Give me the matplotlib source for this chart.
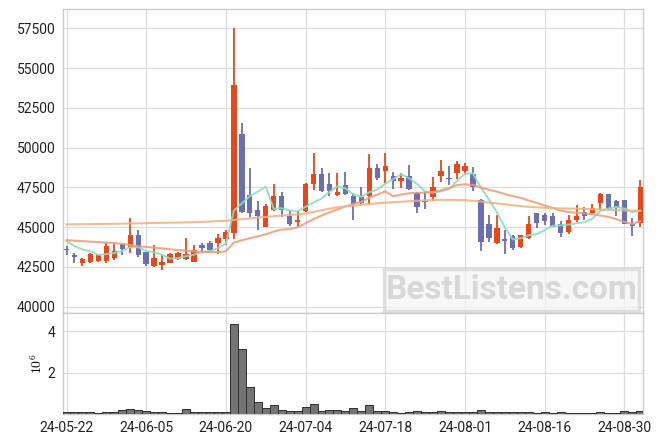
import matplotlib
matplotlib.use("Agg")
import matplotlib.pyplot as plt
from matplotlib.patches import FancyBboxPatch
import numpy as np
import pandas as pd

plt.rcParams.update({
    "font.family": ["Roboto", "DejaVu Sans"],
    "font.size": 10,
    "mathtext.fontset": "cm",
    "axes.edgecolor": "#cccccc",
    "axes.linewidth": 1.0,
    "grid.color": "#dddddd",
    "grid.linewidth": 0.9,
})

# -------------------------------
# DATA (daily candles, 24-05-22 .. 24-09-03)
# -------------------------------
opens = [43600, 43250, 42750, 42820, 42880, 42860, 43070, 43930, 43760, 44500,
         43450, 42560, 42650, 42750, 42980, 42980, 42820, 43870, 44010, 44010,
         44240, 44640, 50840, 47020, 46110, 45020, 46110, 46950, 45710, 45340,
         46030, 47730, 48340, 47730, 47040, 47650, 46950, 46910, 46970, 48700,
         48550, 48210, 47920, 48210, 47160, 46620, 46910, 48230, 48050, 48420,
         48550, 48340, 46700, 45230, 44010, 44240, 44430, 43760, 44290, 45860,
         45760, 45690, 45230, 44710, 45480, 45970, 45860, 46550, 47060, 46640,
         46700, 45230, 45270]
highs = [43800, 43400, 43030, 43400, 43340, 44010, 43970, 43950, 45550, 44810,
         43460, 43850, 43280, 43360, 43450, 44290, 43870, 44010, 44120, 44600,
         44850, 57500, 51530, 48700, 46660, 46450, 47690, 47230, 46110, 46030,
         47770, 49640, 48700, 48380, 48380, 48440, 47160, 47540, 49580, 48970,
         49640, 48490, 48380, 48910, 47230, 47230, 48170, 49220, 48840, 49160,
         49010, 48760, 46750, 45760, 45760, 44850, 44500, 44520, 45690, 45900,
         45880, 45860, 45400, 45760, 46390, 46240, 46430, 47120, 47100, 46700,
         46720, 45550, 47960]
lows = [43240, 42750, 42560, 42750, 42820, 42750, 42960, 43240, 43400, 43130,
        42560, 42500, 42290, 42720, 42920, 42960, 42780, 43510, 43510, 43300,
        43870, 44230, 45860, 45650, 44850, 44980, 46030, 45610, 45060, 44980,
        45970, 47330, 47180, 46970, 46970, 47020, 45420, 46450, 46450, 47960,
        47790, 47390, 47440, 47330, 45860, 46130, 46660, 47860, 47650, 48000,
        48280, 47290, 43510, 44080, 43930, 43300, 43590, 43700, 44230, 44920,
        45130, 44980, 44350, 44600, 45340, 45440, 45820, 46070, 46110, 45690,
        45190, 44430, 44980]
closes = [43550, 43150, 42970, 43340, 43280, 43800, 43490, 43640, 44500, 43240,
          42670, 43070, 42820, 43300, 43380, 43300, 43550, 43660, 43550, 44330,
          44700, 53950, 45930, 45860, 45710, 46320, 46950, 46110, 45170, 45440,
          47730, 48340, 47290, 47290, 47200, 47080, 46430, 46550, 48700, 48110,
          48840, 47920, 48090, 47390, 46280, 46580, 47500, 48530, 48000, 48970,
          48840, 47540, 44080, 44330, 44920, 44140, 43660, 44500, 45230, 45270,
          45400, 45020, 44640, 45480, 45690, 45710, 46180, 47060, 46220, 46180,
          45230, 45060, 47500]

# volume in millions of shares
volume_m = [0.09, 0.09, 0.09, 0.09, 0.05, 0.09, 0.09, 0.20, 0.25, 0.20,
            0.14, 0.09, 0.09, 0.05, 0.05, 0.25, 0.09, 0.09, 0.09, 0.09,
            0.09, 4.35, 3.12, 1.32, 0.57, 0.28, 0.44, 0.19, 0.13, 0.13,
            0.33, 0.47, 0.13, 0.19, 0.19, 0.13, 0.28, 0.13, 0.43, 0.13,
            0.16, 0.09, 0.03, 0.09, 0.16, 0.10, 0.09, 0.16, 0.09, 0.09,
            0.09, 0.09, 0.21, 0.09, 0.09, 0.10, 0.10, 0.09, 0.10, 0.04,
            0.09, 0.04, 0.09, 0.04, 0.04, 0.04, 0.04, 0.09, 0.04, 0.04,
            0.16, 0.09, 0.16]

# moving-average values before enough history is visible
ma5_head = [44140, 43800, 43600, 43480]
ma20_head = [44180, 44150, 44120, 44090, 44060, 44030, 44000, 43950, 43880, 43800,
             43760, 43710, 43660, 43610, 43560, 43520, 43480, 43450, 43430]
ma60 = [45170, 45180, 45185, 45190, 45200, 45205, 45210, 45220, 45230, 45240,
        45250, 45260, 45270, 45280, 45290, 45300, 45310, 45330, 45350, 45380,
        45400, 45450, 45500, 45550, 45600, 45640, 45690, 45730, 45770, 45810,
        45860, 45960, 46060, 46160, 46250, 46300, 46350, 46400, 46450, 46500,
        46540, 46570, 46600, 46630, 46660, 46690, 46710, 46720, 46720, 46710,
        46700, 46660, 46610, 46550, 46490, 46440, 46380, 46330, 46280, 46250,
        46220, 46200, 46180, 46170, 46160, 46150, 46130, 46110, 46090, 46070,
        46050, 46040, 46030]

tick_labels = ["24-05-22", "24-06-05", "24-06-20", "24-07-04",
               "24-07-18", "24-08-01", "24-08-16", "24-08-30"]

UP = "#e5491b"
DOWN = "#6b6fb1"

# -------------------------------
# MOVING AVERAGES
# -------------------------------
close_s = pd.Series(closes, dtype=float)
ma5 = close_s.rolling(5).mean()
ma5.iloc[:len(ma5_head)] = ma5_head
ma20 = close_s.rolling(20).mean()
ma20.iloc[:len(ma20_head)] = ma20_head

# -------------------------------
# FIGURE
# -------------------------------
fig = plt.figure(figsize=(6.63, 4.44), dpi=100)
ax = fig.add_axes([0.0943, 0.295, 0.8756, 0.6847])
axv = fig.add_axes([0.0943, 0.0676, 0.8756, 0.2275], sharex=ax)

x = np.arange(len(closes))
o = np.array(opens, dtype=float)
c = np.array(closes, dtype=float)
cols = np.where(c >= o, UP, DOWN)

ax.vlines(x, lows, highs, colors=cols, lw=1.3, zorder=3)
ax.bar(x, np.maximum(np.abs(c - o), 90), bottom=np.minimum(o, c),
       width=0.68, color=cols, zorder=4)

ax.plot(x, ma5, color="#8ddcc2", lw=1.4, alpha=0.9, zorder=5)
ax.plot(x, ma20, color="#ee9a78", lw=1.5, alpha=0.85, zorder=5)
ax.plot(x, ma60, color="#f0b07e", lw=1.5, alpha=0.85, zorder=5)

ax.set_xlim(-0.5, 72.35)
ax.set_ylim(39600, 58720)
ax.set_yticks(np.arange(40000, 57501, 2500))
ax.set_xticks(np.arange(0, 71, 10))
ax.grid(True)
ax.set_axisbelow(True)
ax.tick_params(length=0, pad=5, labelbottom=False, labelsize=10, colors="#222222")

# watermark
ax.add_patch(FancyBboxPatch((0.553, 0.008), 0.44, 0.138, boxstyle="square,pad=0",
                            transform=ax.transAxes, facecolor="#f4f4f4", alpha=0.7,
                            edgecolor="#d4d4d4", lw=2.5, zorder=6))
ax.text(0.773, 0.077, "BestListens.com", transform=ax.transAxes,
        fontsize=24, fontweight="bold", color="#d8d8d8",
        ha="center", va="center", zorder=7)

# -------------------------------
# VOLUME
# -------------------------------
axv.bar(x, volume_m, width=1.0, color="#747474", edgecolor="#2e2e2e", lw=0.7, zorder=3)
axv.set_ylim(0, 4.87)
axv.set_yticks([2, 4])
axv.set_xticks(np.arange(0, 71, 10))
axv.set_xticklabels(tick_labels)
axv.grid(True)
axv.set_axisbelow(True)
axv.tick_params(length=0, pad=5, labelsize=10, colors="#222222")
axv.set_ylabel(r"$10^6$", fontsize=10, labelpad=2)

fig.savefig("out.png", dpi=100)
plt.close(fig)
